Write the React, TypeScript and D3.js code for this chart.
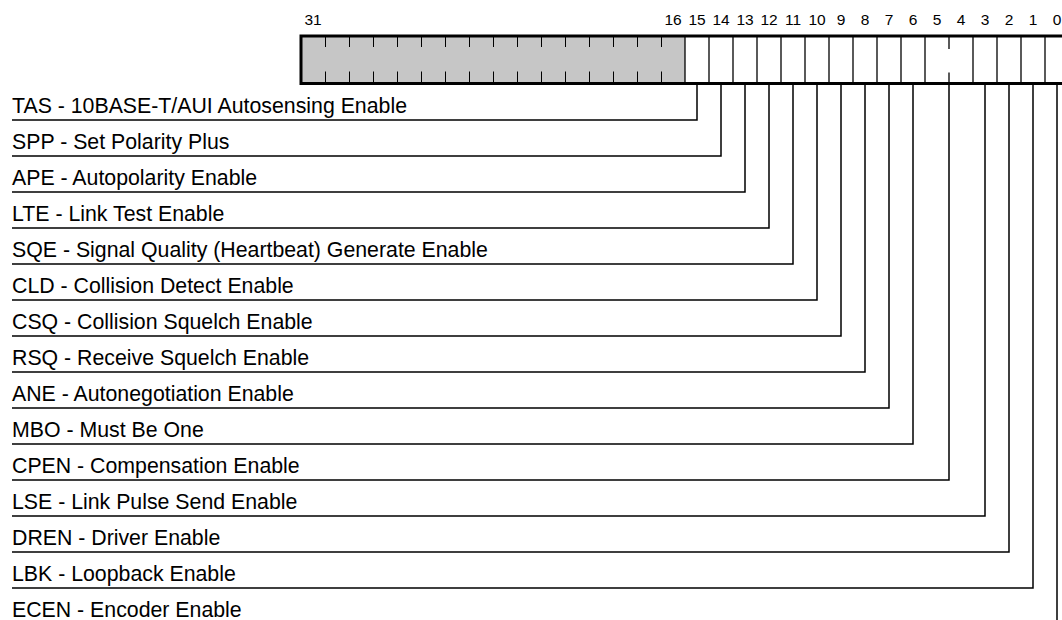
import React, { useEffect, useRef } from 'react';
import * as d3 from 'd3';

// bit numbers printed above the register
const bitLabels = [31, 16, 15, 14, 13, 12, 11, 10, 9, 8, 7, 6, 5, 4, 3, 2, 1, 0];

// register fields, top to bottom
const fieldNames = [
  'TAS - 10BASE-T/AUI Autosensing Enable',
  'SPP - Set Polarity Plus',
  'APE - Autopolarity Enable',
  'LTE - Link Test Enable',
  'SQE - Signal Quality (Heartbeat) Generate Enable',
  'CLD - Collision Detect Enable',
  'CSQ - Collision Squelch Enable',
  'RSQ - Receive Squelch Enable',
  'ANE - Autonegotiation Enable',
  'MBO - Must Be One',
  'CPEN - Compensation Enable',
  'LSE - Link Pulse Send Enable',
  'DREN - Driver Enable',
  'LBK - Loopback Enable',
  'ECEN - Encoder Enable',
];
const fieldMsb = [15, 14, 13, 12, 11, 10, 9, 8, 7, 6, 5, 3, 2, 1, 0];
const fieldLsb = [15, 14, 13, 12, 11, 10, 9, 8, 7, 6, 4, 3, 2, 1, 0];

// reserved range (shaded)
const reservedMsb = 31;
const reservedLsb = 16;

const W = 1062;
const H = 620;
const FONT = 'Arial, "Liberation Sans", Helvetica, sans-serif';

const App: React.FC = () => {
  const svgRef = useRef<SVGSVGElement>(null);

  useEffect(() => {
    if (!svgRef.current) return;
    const svg = d3.select(svgRef.current);
    svg.selectAll('*').remove();

    // bit b spans x(b+1) .. x(b)
    const x = d3.scaleLinear().domain([32, 0]).range([301, 1069]);
    const rows = d3.scalePoint<number>()
      .domain(d3.range(fieldNames.length))
      .range([120, 120 + 36 * (fieldNames.length - 1)]);

    const regTop = 36;
    const regBot = 83.5;

    // cells
    svg.append('rect')
      .attr('x', x(reservedMsb + 1)).attr('y', regTop)
      .attr('width', x(reservedLsb) - x(reservedMsb + 1)).attr('height', regBot - regTop)
      .attr('fill', '#c6c6c6');
    svg.append('rect')
      .attr('x', x(reservedLsb)).attr('y', regTop)
      .attr('width', x(0) - x(reservedLsb)).attr('height', regBot - regTop)
      .attr('fill', '#fff');

    // tick marks inside reserved area
    const gTicks = svg.append('g').attr('stroke', '#000').attr('stroke-width', 1);
    d3.range(reservedLsb + 1, reservedMsb + 1).forEach(b => {
      const xx = Math.round(x(b)) + 0.5;
      gTicks.append('line').attr('x1', xx).attr('x2', xx).attr('y1', regTop).attr('y2', regTop + 11);
      gTicks.append('line').attr('x1', xx).attr('x2', xx).attr('y1', regBot - 12).attr('y2', regBot);
    });

    // field dividers (full) and in-field bit ticks (partial)
    const gDiv = svg.append('g').attr('stroke', '#000').attr('stroke-width', 1.3);
    d3.range(1, reservedLsb + 1).forEach(b => {
      const xx = x(b);
      const isBoundary = fieldLsb.includes(b) || b === reservedLsb;
      if (isBoundary) {
        gDiv.append('line').attr('x1', xx).attr('x2', xx).attr('y1', regTop).attr('y2', regBot);
      } else {
        gDiv.append('line').attr('x1', xx).attr('x2', xx).attr('y1', regTop).attr('y2', regTop + 13);
        gDiv.append('line').attr('x1', xx).attr('x2', xx).attr('y1', regBot - 11).attr('y2', regBot);
      }
    });

    // register outline
    const gOut = svg.append('g').attr('stroke', '#000').attr('stroke-width', 3).attr('fill', 'none');
    gOut.append('path')
      .attr('d', `M${x(0) + 2},${regTop} H${x(32)} V${regBot} H${x(0) + 2}`);

    // bit numbers
    svg.append('g')
      .selectAll('text')
      .data(bitLabels)
      .enter()
      .append('text')
      .attr('x', d => (x(d) + x(d + 1)) / 2)
      .attr('y', 25)
      .attr('text-anchor', 'middle')
      .attr('font-family', FONT)
      .attr('font-size', 15.5)
      .attr('fill', '#000')
      .text(d => String(d));

    // leaders
    const gLead = svg.append('g');
    fieldNames.forEach((name, i) => {
      const cx = (x(fieldLsb[i]) + x(fieldMsb[i] + 1)) / 2;
      const ly = rows(i) as number;
      gLead.append('path')
        .attr('d', `M${cx},${regBot + 1.5} V${ly} H12`)
        .attr('fill', 'none')
        .attr('stroke', '#000')
        .attr('stroke-width', 1.5);
      gLead.append('text')
        .attr('x', 12)
        .attr('y', ly - 7)
        .attr('font-family', FONT)
        .attr('font-size', 21.3)
        .attr('fill', '#000')
        .text(name);
    });
  }, []);

  return (
    <svg
      ref={svgRef}
      width={W}
      height={H}
      style={{ position: 'absolute', left: 0, top: 0, background: '#fff', display: 'block' }}
    />
  );
};

export default App;
